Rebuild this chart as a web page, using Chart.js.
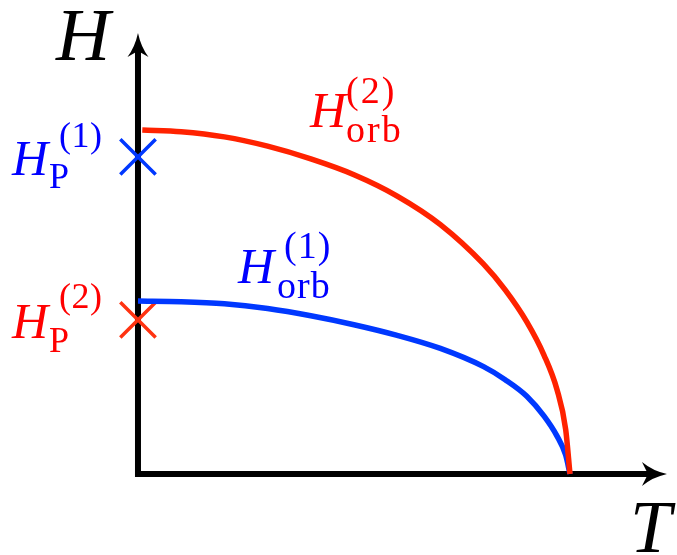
<!DOCTYPE html>
<html>
<head>
<meta charset="utf-8">
<script src="https://cdn.jsdelivr.net/npm/chart.js@4/dist/chart.umd.min.js"></script>
<style>
  html, body { margin: 0; padding: 0; background: #ffffff; }
  #wrap { width: 677px; height: 555px; }
</style>
</head>
<body>
<div id="wrap"><canvas id="chart" width="677" height="555"></canvas></div>
<script>
// Critical fields vs temperature (T in units of Tc, H in units of the larger Hc0)
const orb2T = [0.01, 0.1, 0.2, 0.3, 0.4, 0.5, 0.6, 0.7, 0.8, 0.85, 0.9, 0.94, 0.97, 0.99, 1.0];
const orb2H = [1.0, 0.995, 0.980, 0.953, 0.916, 0.870, 0.808, 0.725, 0.610, 0.535, 0.442, 0.345, 0.245, 0.130, 0.0];

const orb1T = [0.0, 0.1, 0.2, 0.3, 0.4, 0.5, 0.6, 0.7, 0.8, 0.85, 0.9, 0.94, 0.97, 0.99, 1.0];
const orb1H = [0.503, 0.501, 0.495, 0.481, 0.460, 0.434, 0.403, 0.365, 0.312, 0.274, 0.226, 0.168, 0.110, 0.055, 0.0];

// Pauli limits at T = 0
const pauliT = [0.0, 0.0];
const pauliH = [0.922, 0.448];

// where the axis arrows end
const axisEndT = 1.2245;
const axisEndH = 1.282;

const RED = '#ff2200';
const BLUE = '#0038ff';
const SERIF = '"Liberation Serif", "DejaVu Serif", serif';

const toPoints = (xs, ys) => xs.map((x, i) => ({ x: x, y: ys[i] }));

// black axes with latex-style arrow heads
const axesPlugin = {
  id: 'arrowAxes',
  beforeDatasetsDraw(chart) {
    const ctx = chart.ctx;
    const xs = chart.scales.x, ys = chart.scales.y;
    const ox = xs.getPixelForValue(0), oy = ys.getPixelForValue(0);
    const tipX = xs.getPixelForValue(axisEndT);
    const tipY = ys.getPixelForValue(axisEndH);
    ctx.save();
    ctx.strokeStyle = '#000';
    ctx.fillStyle = '#000';
    ctx.lineWidth = 6;
    ctx.lineCap = 'butt';
    ctx.beginPath();
    ctx.moveTo(ox, oy + 3);
    ctx.lineTo(ox, tipY + 18);
    ctx.moveTo(ox - 3, oy);
    ctx.lineTo(tipX - 18, oy);
    ctx.stroke();

    // vertical arrow head
    ctx.beginPath();
    ctx.moveTo(ox, tipY);
    ctx.quadraticCurveTo(ox + 3, tipY + 14, ox + 10.5, tipY + 24);
    ctx.lineTo(ox, tipY + 18);
    ctx.lineTo(ox - 10.5, tipY + 24);
    ctx.quadraticCurveTo(ox - 3, tipY + 14, ox, tipY);
    ctx.fill();

    // horizontal arrow head
    ctx.beginPath();
    ctx.moveTo(tipX, oy);
    ctx.quadraticCurveTo(tipX - 14, oy - 3, tipX - 25, oy - 12);
    ctx.lineTo(tipX - 19, oy);
    ctx.lineTo(tipX - 25, oy + 12);
    ctx.quadraticCurveTo(tipX - 14, oy + 3, tipX, oy);
    ctx.fill();
    ctx.restore();
  }
};

// H with optional sub/superscript, TeX style
function drawSymbol(ctx, o) {
  ctx.save();
  ctx.fillStyle = o.color;
  ctx.textBaseline = 'alphabetic';
  ctx.textAlign = 'left';
  ctx.font = 'italic ' + o.size + 'px ' + SERIF;
  ctx.fillText(o.main, o.x, o.y);
  ctx.font = o.scriptSize + 'px ' + SERIF;
  ctx.letterSpacing = (o.spacing || 0) + 'px';
  if (o.sub) ctx.fillText(o.sub, o.x + o.subDx, o.y + o.subDy);
  if (o.sup) ctx.fillText(o.sup, o.x + o.supDx, o.y + o.supDy);
  ctx.restore();
}

const labelsPlugin = {
  id: 'fieldLabels',
  afterDraw(chart) {
    const ctx = chart.ctx;
    drawSymbol(ctx, { main: 'H', x: 56, y: 60, size: 75, color: '#000' });
    drawSymbol(ctx, { main: 'T', x: 630, y: 552, size: 74, color: '#000' });

    drawSymbol(ctx, { main: 'H', x: 12, y: 175, size: 50, color: '#0000ff',
      sub: 'P', subDx: 37, subDy: 13, sup: '(1)', supDx: 47, supDy: -28, scriptSize: 36, spacing: 0.5 });
    drawSymbol(ctx, { main: 'H', x: 12, y: 338, size: 50, color: '#ff0000',
      sub: 'P', subDx: 37, subDy: 14, sup: '(2)', supDx: 47, supDy: -30, scriptSize: 36, spacing: 0.5 });

    drawSymbol(ctx, { main: 'H', x: 310, y: 127, size: 50, color: '#ff0000',
      sub: 'orb', subDx: 36, subDy: 15, sup: '(2)', supDx: 36, supDy: -24, scriptSize: 38, spacing: 2 });
    drawSymbol(ctx, { main: 'H', x: 238, y: 283, size: 50, color: '#0000ff',
      sub: 'orb', subDx: 39, subDy: 15, sup: '(1)', supDx: 46, supDy: -25, scriptSize: 38, spacing: 1 });
  }
};

new Chart(document.getElementById('chart'), {
  type: 'line',
  data: {
    datasets: [
      {
        label: 'H_orb(2)',
        data: toPoints(orb2T, orb2H),
        borderColor: RED,
        borderWidth: 5.5,
        borderCapStyle: 'butt',
        cubicInterpolationMode: 'monotone',
        pointRadius: 0,
        fill: false
      },
      {
        label: 'H_orb(1)',
        data: toPoints(orb1T, orb1H),
        borderColor: BLUE,
        borderWidth: 5.5,
        borderCapStyle: 'butt',
        cubicInterpolationMode: 'monotone',
        pointRadius: 0,
        fill: false
      },
      {
        label: 'H_P',
        data: toPoints(pauliT, pauliH),
        showLine: false,
        pointStyle: 'crossRot',
        pointRadius: 25,
        pointBorderWidth: 3.5,
        pointBorderColor: [BLUE, '#ff3311'],
        pointBackgroundColor: 'transparent'
      }
    ]
  },
  options: {
    responsive: false,
    animation: false,
    events: [],
    layout: { padding: 0, autoPadding: false },
    scales: {
      x: { type: 'linear', min: -0.3194, max: 1.2477, display: false },
      y: { type: 'linear', min: -0.2355, max: 1.3779, display: false }
    },
    plugins: {
      legend: { display: false },
      tooltip: { enabled: false }
    }
  },
  plugins: [axesPlugin, labelsPlugin]
});
</script>
</body>
</html>
